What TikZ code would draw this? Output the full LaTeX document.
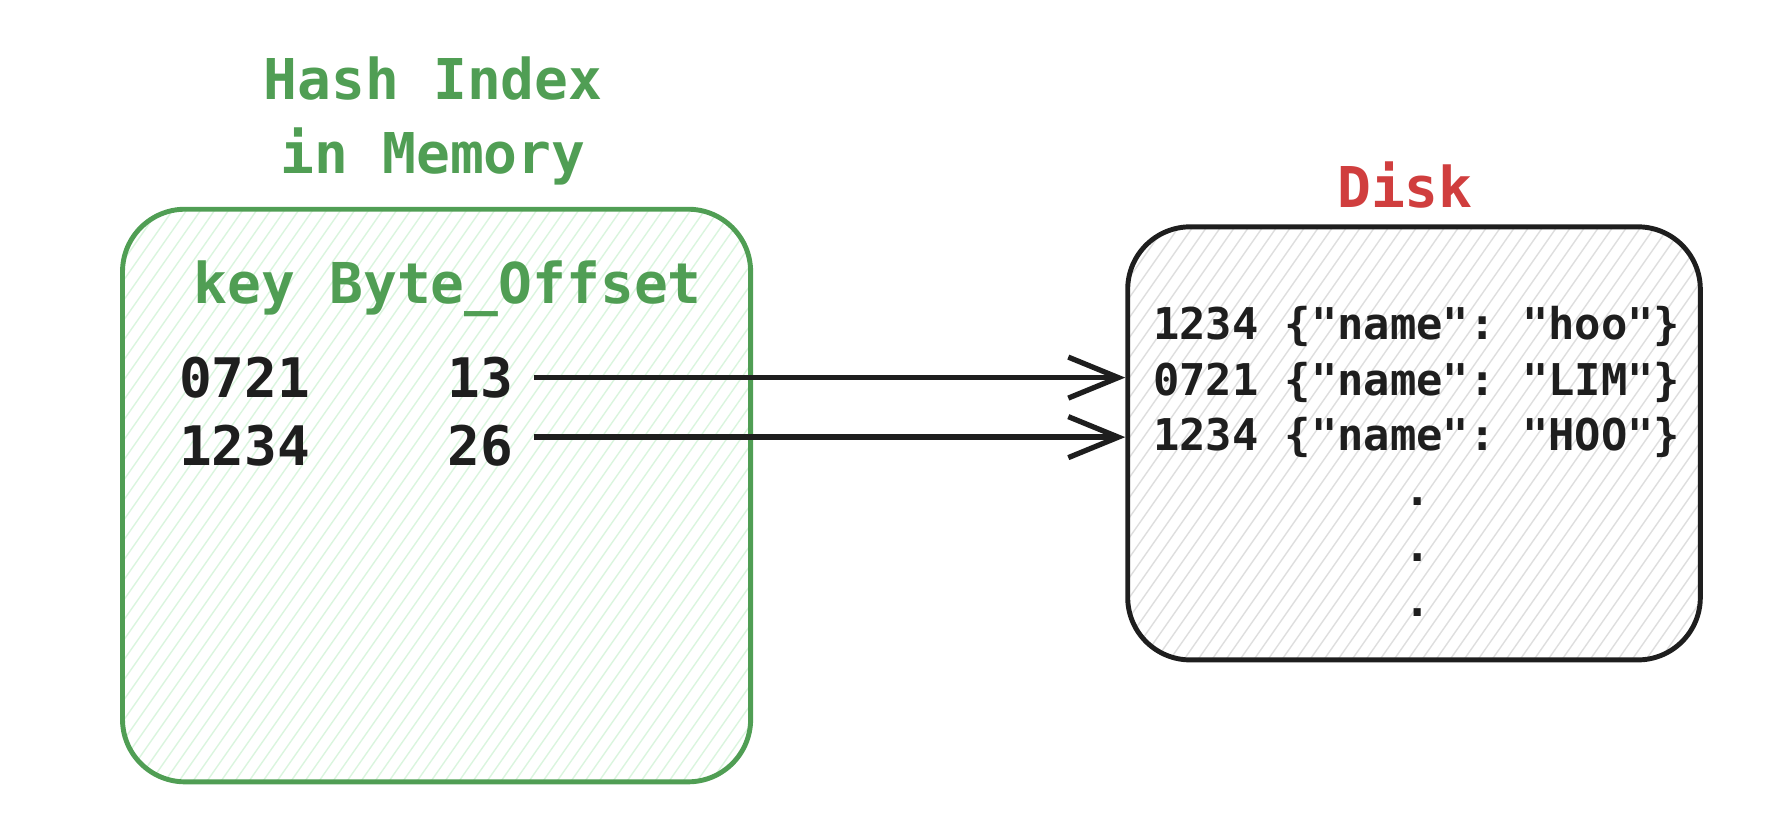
\documentclass[tikz,border=0pt]{standalone}
\usepackage{fontspec}
\setmonofont{DejaVu Sans Mono}
\usetikzlibrary{arrows.meta}

\definecolor{memgreen}{RGB}{80,158,84}
\definecolor{diskred}{RGB}{208,62,62}
\definecolor{hatchgreen}{RGB}{218,245,222}
\definecolor{hatchgray}{RGB}{222,222,222}
\definecolor{ink}{RGB}{30,30,30}

\tikzset{
  bigtxt/.style={font=\ttfamily\bfseries\fontsize{32}{42}\selectfont, inner sep=3pt},
  rowtxt/.style={font=\ttfamily\bfseries\fontsize{31}{38}\selectfont, text=ink, inner sep=3pt},
  disktxt/.style={font=\ttfamily\bfseries\fontsize{24.9}{30}\selectfont, text=ink, inner sep=3pt},
  hatch/.style={path picture={
      \foreach \k in {-34,...,56}
        \draw[#1, line width=0.8pt]
          ([xshift=\k*0.28cm]path picture bounding box.south west) -- ++(55:18cm);
    }},
  store/.style={draw=#1, line width=2.8pt, rounded corners=1.25cm},
  link/.style={-{Straight Barb[length=1cm, width=0.82cm, line width=3pt]}, line width=3.2pt, ink}
}

\begin{document}
\begin{tikzpicture}[x=0.02268cm, y=-0.02268cm]
  \useasboundingbox (0,0) rectangle (1568,730.2);

  % the two boxes
  \node[store=memgreen, hatch=hatchgreen, minimum width=12.56cm, minimum height=11.45cm] (mem) at (385,437) {};
  \node[store=ink, hatch=hatchgray, minimum width=11.45cm, minimum height=8.66cm] (disk) at (1247,391) {};

  % titles
  \node[bigtxt, text=memgreen, align=center] (memtitle) at (382,107) {Hash Index\\in Memory};
  \node[bigtxt, text=diskred] (disktitle) at (1239,163) {Disk};

  % hash index
  \node[bigtxt, text=memgreen] (head) at (395,255) {key Byte\_Offset};
  \node[rowtxt, anchor=west] (k0721) at (153,333) {0721};
  \node[rowtxt, anchor=west] (o13) at (390,333) {13};
  \node[rowtxt, anchor=west] (k1234) at (153,393) {1234};
  \node[rowtxt, anchor=west] (o26) at (390,393) {26};

  % disk records
  \node[disktxt, anchor=west] (d1234a) at (1012,288) {1234 \{"name": "hoo"\}};
  \node[disktxt, anchor=west] (d0721) at (1012,337) {0721 \{"name": "LIM"\}};
  \node[disktxt, anchor=west] (d1234b) at (1012,386) {1234 \{"name": "HOO"\}};
  \foreach \y/\n in {446/1,495/2,544/3}
    \node[disktxt, anchor=base] (dot\n) at (1250,\y) {.};

  % offsets point into the log
  \draw[link, shorten <=0.3cm] (o13.east) -- (o13.east -| disk.west);
  \draw[link, shorten <=0.3cm] ([yshift=0.17cm]o26.east) -- ([yshift=0.17cm]o26.east -| disk.west);
\end{tikzpicture}
\end{document}
